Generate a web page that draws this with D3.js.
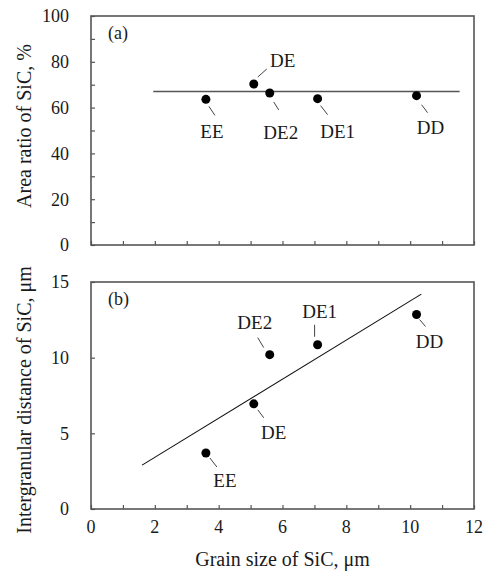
<!DOCTYPE html>
<html lang="en">
<head>
    <meta charset="UTF-8">
    <title>SiC area ratio and intergranular distance vs grain size</title>
    <script src="https://d3js.org/d3.v7.min.js"></script>
    <style>
        body { margin: 0; background: #fff; }
        svg { display: block; }
    </style>
</head>
<body>
    <div id="container"></div>

    <script>
        // Data
        const samples = ["EE", "DE", "DE2", "DE1", "DD"];
        const grainSize = [3.6, 5.1, 5.6, 7.1, 10.2];
        const areaRatio = [63.6, 70.3, 66.4, 63.9, 65.2];
        const interDist = [3.7, 6.95, 10.2, 10.85, 12.85];

        // Trend lines (endpoints as drawn in the figure)
        const areaFitX = [1.95, 11.55];
        const areaFitY = [67.0, 67.0];
        const distFitX = [1.6, 10.35];
        const distFitY = [2.9, 14.2];

        const xTicks = [0, 2, 4, 6, 8, 10, 12];
        const areaTicks = [0, 20, 40, 60, 80, 100];
        const distTicks = [0, 5, 10, 15];

        // Layout
        const width = 484;
        const height = 571;
        const left = 91, right = 474;
        const tickFont = 18, labelFont = 19, titleFont = 20;
        const serif = "'Liberation Serif'";
        const frameColor = "#555";
        const textColor = "#1a1a1a";

        // label placement offsets in px: [leader x1, y1, x2, y2, text x, text y]
        const labelsA = {
            EE:  [3, 7, 9, 16, 6, 32],
            DE:  [4, -7, 13, -15, 29, -24],
            DE2: [4, 9, 9, 17, 11, 39],
            DE1: [3, 7, 10, 16, 20, 33],
            DD:  [5, 9, 11, 17, 14, 32]
        };
        const labelsB = {
            EE:  [4, 5, 11, 14, 19, 27],
            DE:  [4, 6, 10, 14, 20, 29],
            DE2: [-12, -17, -6, -7, -15, -32],
            DE1: [-3, -20, -3, -8, 2, -33],
            DD:  [3, 5, 9, 12, 13, 27]
        };

        const svg = d3.select("#container").append("svg")
            .attr("width", width)
            .attr("height", height);

        const x = d3.scaleLinear().domain([0, 12]).range([left, right]);

        function addText(sel, size) {
            return sel.attr("font-family", serif)
                .attr("font-size", size)
                .attr("fill", textColor);
        }

        function drawPanel(opts) {
            const y = d3.scaleLinear().domain(opts.yDomain).range([opts.bottom, opts.top]);
            const g = svg.append("g");

            // inward ticks on x
            g.append("g")
                .attr("transform", `translate(0,${opts.bottom})`)
                .call(d3.axisTop(x).tickValues(d3.range(0, 13, 1)).tickSize(4).tickFormat(""))
                .call(a => a.select(".domain").remove())
                .call(a => a.selectAll("line").attr("stroke", frameColor).attr("stroke-width", 1.2));

            // inward ticks on y
            g.append("g")
                .attr("transform", `translate(${left},0)`)
                .call(d3.axisRight(y).tickValues(opts.yMinor).tickSize(4).tickFormat(""))
                .call(a => a.select(".domain").remove())
                .call(a => a.selectAll("line").attr("stroke", frameColor).attr("stroke-width", 1.2));

            // y tick labels
            g.selectAll(".ylab").data(opts.yTicks).join("text")
                .attr("x", left - 22)
                .attr("y", d => y(d))
                .attr("dy", "0.35em")
                .attr("text-anchor", "end")
                .call(addText, tickFont)
                .text(d => d);

            // frame
            g.append("rect")
                .attr("x", left).attr("y", opts.top)
                .attr("width", right - left).attr("height", opts.bottom - opts.top)
                .attr("fill", "none")
                .attr("stroke", frameColor)
                .attr("stroke-width", 1.6);

            // trend line
            g.append("line")
                .attr("x1", x(opts.fitX[0])).attr("y1", y(opts.fitY[0]))
                .attr("x2", x(opts.fitX[1])).attr("y2", y(opts.fitY[1]))
                .attr("stroke", opts.fitColor)
                .attr("stroke-width", opts.fitWidth);

            // points
            const pts = samples.map((s, i) => ({ name: s, gx: grainSize[i], v: opts.values[i] }));
            g.selectAll(".pt").data(pts).join("circle")
                .attr("cx", d => x(d.gx))
                .attr("cy", d => y(d.v))
                .attr("r", 4.5)
                .attr("fill", "#000");

            // leaders and labels
            g.selectAll(".lead").data(pts).join("line")
                .attr("x1", d => x(d.gx) + opts.labels[d.name][0])
                .attr("y1", d => y(d.v) + opts.labels[d.name][1])
                .attr("x2", d => x(d.gx) + opts.labels[d.name][2])
                .attr("y2", d => y(d.v) + opts.labels[d.name][3])
                .attr("stroke", "#444")
                .attr("stroke-width", 1);

            g.selectAll(".lab").data(pts).join("text")
                .attr("x", d => x(d.gx) + opts.labels[d.name][4])
                .attr("y", d => y(d.v) + opts.labels[d.name][5])
                .attr("dy", "0.35em")
                .attr("text-anchor", "middle")
                .call(addText, labelFont)
                .text(d => d.name);

            // panel tag
            g.append("text")
                .attr("x", left + 17)
                .attr("y", opts.top + 17)
                .attr("dy", "0.35em")
                .call(addText, 18)
                .text(opts.tag);

            // y title
            g.append("text")
                .attr("transform", `translate(24,${opts.titleY}) rotate(-90)`)
                .attr("dy", "0.35em")
                .attr("text-anchor", "middle")
                .call(addText, titleFont)
                .text(opts.yTitle);

            return y;
        }

        drawPanel({
            top: 16, bottom: 245, titleY: 126,
            yDomain: [0, 100], yTicks: areaTicks, yMinor: d3.range(0, 101, 10),
            values: areaRatio, fitX: areaFitX, fitY: areaFitY,
            fitColor: "#555", fitWidth: 1.5,
            labels: labelsA, tag: "(a)", yTitle: "Area ratio of SiC, %"
        });

        drawPanel({
            top: 282, bottom: 509, titleY: 400,
            yDomain: [0, 15], yTicks: distTicks, yMinor: distTicks,
            values: interDist, fitX: distFitX, fitY: distFitY,
            fitColor: "#111", fitWidth: 1.1,
            labels: labelsB, tag: "(b)", yTitle: "Intergranular distance of SiC, \u03bcm"
        });

        // x tick labels (bottom panel only)
        svg.selectAll(".xlab").data(xTicks).join("text")
            .attr("x", d => x(d))
            .attr("y", 527)
            .attr("dy", "0.35em")
            .attr("text-anchor", "middle")
            .call(addText, tickFont)
            .text(d => d);

        svg.append("text")
            .attr("x", x(6))
            .attr("y", 559)
            .attr("dy", "0.35em")
            .attr("text-anchor", "middle")
            .call(addText, titleFont)
            .text("Grain size of SiC, \u03bcm");
    </script>
</body>
</html>
